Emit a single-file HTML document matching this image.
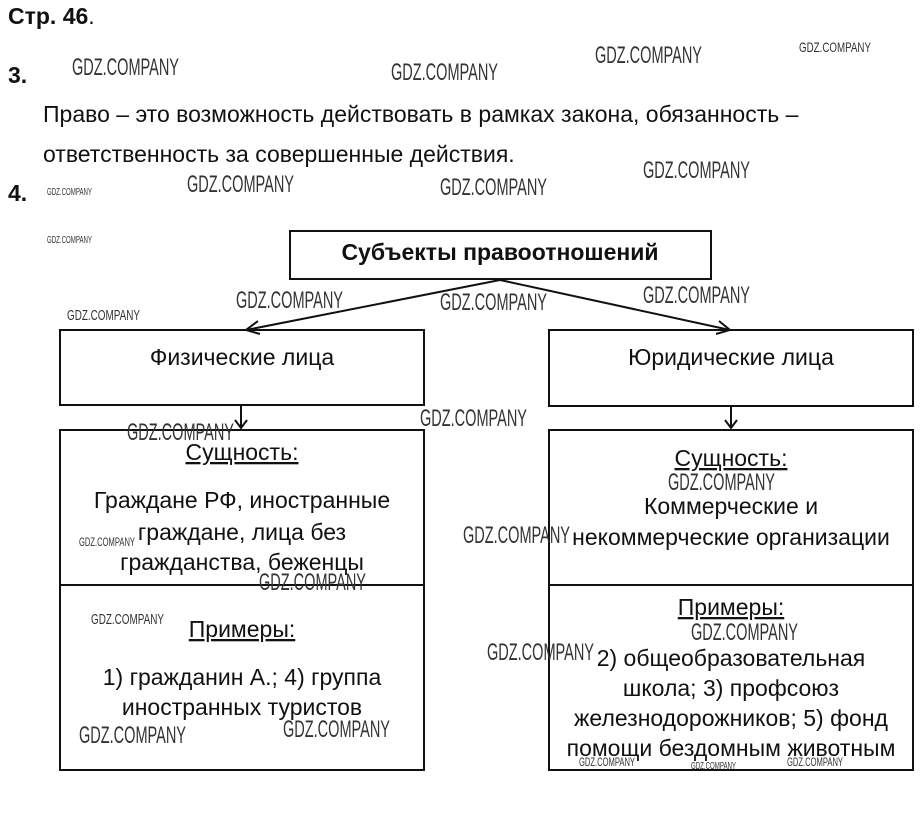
<!DOCTYPE html>
<html><head><meta charset="utf-8"><style>
html,body{margin:0;padding:0;background:#fff;}
svg{display:block;}
.t{font-family:"Liberation Sans",sans-serif;font-size:23px;fill:#111;}
.b{font-weight:bold;}
.w{font-family:"Liberation Sans Narrow","Liberation Sans",sans-serif;fill:#333;}
</style></head><body>
<svg width="922" height="830" viewBox="0 0 922 830" xmlns="http://www.w3.org/2000/svg">
<rect width="922" height="830" fill="#fff"/>
<text class="t b" x="8" y="24" font-size="21">Стр. 46<tspan font-weight="normal">.</tspan></text>
<text class="t b" x="8" y="83" font-size="21">3.</text>
<text class="t" x="43" y="122">Право – это возможность действовать в рамках закона, обязанность –</text>
<text class="t" x="43" y="162">ответственность за совершенные действия.</text>
<text class="t b" x="8" y="201" font-size="21">4.</text>

<g fill="none" stroke="#111" stroke-width="2">
<rect x="290" y="231" width="421" height="48"/>
<rect x="60" y="330" width="364" height="75"/>
<rect x="549" y="330" width="364" height="76"/>
<rect x="60" y="430" width="364" height="340"/>
<line x1="60" y1="585" x2="424" y2="585"/>
<rect x="549" y="430" width="364" height="340"/>
<line x1="549" y1="585" x2="913" y2="585"/>
<line x1="500" y1="280" x2="246" y2="330"/>
<polyline points="258,321 246,330 260,334"/>
<line x1="500" y1="280" x2="730" y2="330"/>
<polyline points="716,334 730,330 719,321"/>
<line x1="241" y1="405" x2="241" y2="428"/>
<polyline points="235,420 241,428 247,420"/>
<line x1="731" y1="406" x2="731" y2="428"/>
<polyline points="725,420 731,428 737,420"/>
</g>

<text class="t b" x="500" y="260" text-anchor="middle" font-size="22.5">Субъекты правоотношений</text>
<text class="t" x="242" y="365" text-anchor="middle">Физические лица</text>
<text class="t" x="731" y="365" text-anchor="middle">Юридические лица</text>

<text class="t" x="242" y="460" text-anchor="middle" text-decoration="underline">Сущность:</text>
<text class="t" x="242" y="508" text-anchor="middle">Граждане РФ, иностранные</text>
<text class="t" x="242" y="540" text-anchor="middle">граждане, лица без</text>
<text class="t" x="242" y="570" text-anchor="middle">гражданства, беженцы</text>
<text class="t" x="242" y="637" text-anchor="middle" text-decoration="underline">Примеры:</text>
<text class="t" x="242" y="685" text-anchor="middle">1) гражданин А.; 4) группа</text>
<text class="t" x="242" y="715" text-anchor="middle">иностранных туристов</text>

<text class="t" x="731" y="466" text-anchor="middle" text-decoration="underline">Сущность:</text>
<text class="t" x="731" y="514" text-anchor="middle">Коммерческие и</text>
<text class="t" x="731" y="545" text-anchor="middle">некоммерческие организации</text>
<text class="t" x="731" y="615" text-anchor="middle" text-decoration="underline">Примеры:</text>
<text class="t" x="731" y="666" text-anchor="middle">2) общеобразовательная</text>
<text class="t" x="731" y="696" text-anchor="middle">школа; 3) профсоюз</text>
<text class="t" x="731" y="726" text-anchor="middle">железнодорожников; 5) фонд</text>
<text class="t" x="731" y="756" text-anchor="middle">помощи бездомным животным</text>

<g class="w">
<text x="72" y="75" font-size="24" textLength="107" lengthAdjust="spacingAndGlyphs">GDZ.COMPANY</text>
<text x="391" y="80" font-size="24" textLength="107" lengthAdjust="spacingAndGlyphs">GDZ.COMPANY</text>
<text x="595" y="63" font-size="24" textLength="107" lengthAdjust="spacingAndGlyphs">GDZ.COMPANY</text>
<text x="799" y="52" font-size="14" textLength="72" lengthAdjust="spacingAndGlyphs">GDZ.COMPANY</text>
<text x="47" y="195" font-size="10" textLength="45" lengthAdjust="spacingAndGlyphs">GDZ.COMPANY</text>
<text x="187" y="192" font-size="24" textLength="107" lengthAdjust="spacingAndGlyphs">GDZ.COMPANY</text>
<text x="440" y="195" font-size="24" textLength="107" lengthAdjust="spacingAndGlyphs">GDZ.COMPANY</text>
<text x="643" y="178" font-size="24" textLength="107" lengthAdjust="spacingAndGlyphs">GDZ.COMPANY</text>
<text x="47" y="243" font-size="10" textLength="45" lengthAdjust="spacingAndGlyphs">GDZ.COMPANY</text>
<text x="236" y="308" font-size="24" textLength="107" lengthAdjust="spacingAndGlyphs">GDZ.COMPANY</text>
<text x="440" y="310" font-size="24" textLength="107" lengthAdjust="spacingAndGlyphs">GDZ.COMPANY</text>
<text x="643" y="303" font-size="24" textLength="107" lengthAdjust="spacingAndGlyphs">GDZ.COMPANY</text>
<text x="67" y="320" font-size="15" textLength="73" lengthAdjust="spacingAndGlyphs">GDZ.COMPANY</text>
<text x="420" y="426" font-size="24" textLength="107" lengthAdjust="spacingAndGlyphs">GDZ.COMPANY</text>
<text x="127" y="440" font-size="24" textLength="107" lengthAdjust="spacingAndGlyphs">GDZ.COMPANY</text>
<text x="668" y="490" font-size="24" textLength="107" lengthAdjust="spacingAndGlyphs">GDZ.COMPANY</text>
<text x="463" y="543" font-size="24" textLength="107" lengthAdjust="spacingAndGlyphs">GDZ.COMPANY</text>
<text x="79" y="546" font-size="12" textLength="56" lengthAdjust="spacingAndGlyphs">GDZ.COMPANY</text>
<text x="259" y="590" font-size="24" textLength="107" lengthAdjust="spacingAndGlyphs">GDZ.COMPANY</text>
<text x="91" y="624" font-size="15" textLength="73" lengthAdjust="spacingAndGlyphs">GDZ.COMPANY</text>
<text x="691" y="640" font-size="24" textLength="107" lengthAdjust="spacingAndGlyphs">GDZ.COMPANY</text>
<text x="487" y="660" font-size="24" textLength="107" lengthAdjust="spacingAndGlyphs">GDZ.COMPANY</text>
<text x="79" y="743" font-size="24" textLength="107" lengthAdjust="spacingAndGlyphs">GDZ.COMPANY</text>
<text x="283" y="737" font-size="24" textLength="107" lengthAdjust="spacingAndGlyphs">GDZ.COMPANY</text>
<text x="579" y="766" font-size="12" textLength="56" lengthAdjust="spacingAndGlyphs">GDZ.COMPANY</text>
<text x="691" y="769" font-size="10" textLength="45" lengthAdjust="spacingAndGlyphs">GDZ.COMPANY</text>
<text x="787" y="766" font-size="12" textLength="56" lengthAdjust="spacingAndGlyphs">GDZ.COMPANY</text>
</g>
</svg>
</body></html>
